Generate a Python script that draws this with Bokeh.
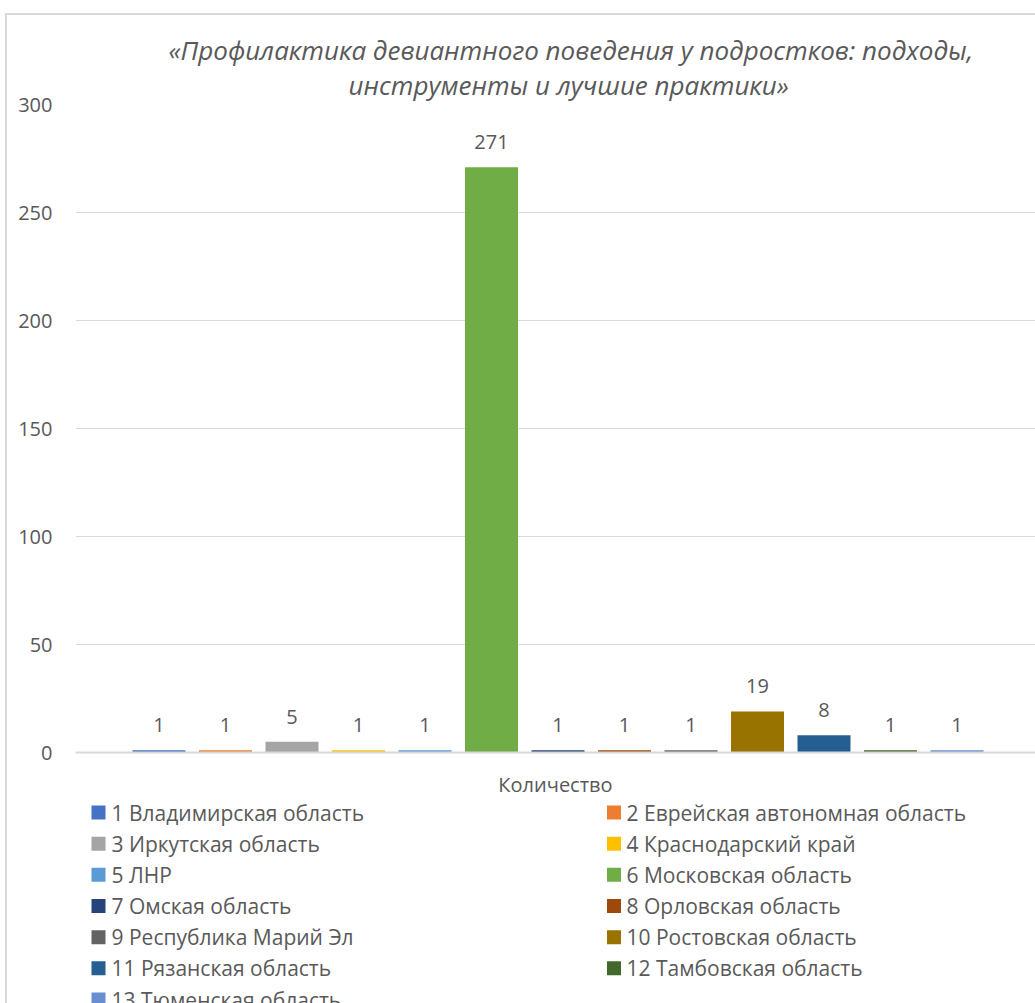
from bokeh.plotting import figure
from bokeh.models import Range1d, FixedTicker, ColumnDataSource, Title
from bokeh.layouts import column
from bokeh.embed import file_html
from bokeh.resources import INLINE
from bokeh.core.properties import value

# ---------------- data ----------------
regions = [
    "1 Владимирская область",
    "2 Еврейская автономная область",
    "3 Иркутская область",
    "4 Краснодарский край",
    "5 ЛНР",
    "6 Московская область",
    "7 Омская область",
    "8 Орловская область",
    "9 Республика Марий Эл",
    "10 Ростовская область",
    "11 Рязанская  область",
    "12 Тамбовская область",
    "13 Тюменская область",
]
counts = [1, 1, 5, 1, 1, 271, 1, 1, 1, 19, 8, 1, 1]
colors = ["#4472C4", "#ED7D31", "#A5A5A5", "#FFC000", "#5B9BD5", "#70AD47",
          "#264478", "#9E480E", "#636363", "#997300", "#255E91", "#43682B", "#698ED0"]
category = "Количество"
title_lines = ["«Профилактика девиантного поведения у подростков: подходы,",
               "инструменты и лучшие практики»"]
y_ticks = [0, 50, 100, 150, 200, 250, 300]

# ---------------- style ----------------
FONT = "Open Sans"
TXT = "#595959"
GRID = "#D9D9D9"

W = 1028
H1 = 785
H2 = 203
LEFT = 68

# frame spans page x 75..1035 (960px) -> x range 0..1
n = len(counts)
pitch = 66.5 / 960.0
bar_w = 53.0 / 960.0
center = (557.5 - 75.0) / 960.0
xs = [center + (i - (n - 1) / 2.0) * pitch for i in range(n)]

src = ColumnDataSource(dict(
    x=xs, top=counts, color=colors, label=[str(v) for v in counts], name=regions))

p = figure(width=W, height=H1, x_range=Range1d(0, 1), y_range=Range1d(0, 300),
           output_backend="svg", toolbar_location=None, title=None,
           min_border_left=LEFT, min_border_right=0, min_border_top=89, min_border_bottom=45)
p.outline_line_color = None
p.background_fill_color = "white"
p.border_fill_color = "white"

p.vbar(x="x", top="top", bottom=0, width=bar_w, fill_color="color", line_color=None, source=src)
p.text(x="x", y="top", text="label", source=src, text_align="center", text_baseline="middle",
       y_offset=-25, text_font=value(FONT), text_font_size="20px", text_color=TXT)

# axes
p.yaxis.ticker = FixedTicker(ticks=y_ticks)
p.yaxis.axis_line_color = None
p.yaxis.major_tick_line_color = None
p.yaxis.minor_tick_line_color = None
p.yaxis.major_tick_out = 0
p.yaxis.major_tick_in = 0
p.yaxis.major_label_standoff = 23
p.yaxis.major_label_text_font = FONT
p.yaxis.major_label_text_font_size = "20px"
p.yaxis.major_label_text_color = TXT

p.xaxis.ticker = FixedTicker(ticks=[0.5])
p.xaxis.major_label_overrides = {0.5: category}
p.xaxis.axis_line_color = GRID
p.xaxis.axis_line_width = 2
p.xaxis.major_tick_line_color = None
p.xaxis.minor_tick_line_color = None
p.xaxis.major_tick_out = 0
p.xaxis.major_tick_in = 0
p.xaxis.major_label_standoff = 18
p.xaxis.major_label_text_font = FONT
p.xaxis.major_label_text_font_size = "20px"
p.xaxis.major_label_text_color = TXT

p.xgrid.grid_line_color = None
p.ygrid.ticker = FixedTicker(ticks=y_ticks)
p.ygrid.grid_line_color = GRID
p.ygrid.grid_line_width = 1

# title: two lines, placed so that they are centred near x=567
t2 = Title(text=title_lines[1], align="left", offset=273, standoff=4,
           text_font=FONT, text_font_style="italic", text_font_size="26px", text_color=TXT)
t1 = Title(text=title_lines[0], align="left", offset=93, standoff=-11,
           text_font=FONT, text_font_style="italic", text_font_size="26px", text_color=TXT)
p.add_layout(t2, "above")
p.add_layout(t1, "above")

# ---------------- legend (two columns, row-major) ----------------
q = figure(width=W, height=H2, x_range=Range1d(75, 1035), y_range=Range1d(1003, 800),
           x_axis_type=None, y_axis_type=None,
           output_backend="svg", toolbar_location=None,
           min_border=0, min_border_left=LEFT, min_border_right=0, min_border_top=0, min_border_bottom=0)
q.grid.visible = False
q.outline_line_color = None
q.background_fill_color = "white"
q.border_fill_color = "white"

col_sq = [98.0, 613.5]
col_tx = [111.0, 626.0]
lsrc = ColumnDataSource(dict(
    sx=[col_sq[i % 2] for i in range(n)],
    tx=[col_tx[i % 2] for i in range(n)],
    y=[812 + 31.17 * (i // 2) for i in range(n)],
    color=colors, name=regions))
q.rect(x="sx", y="y", width=14, height=14, fill_color="color", line_color=None, source=lsrc)
q.text(x="tx", y="y", text="name", source=lsrc, text_align="left", text_baseline="middle",
       text_font=value(FONT), text_font_size="21px", text_color=TXT)

layout = column(p, q, styles={"border-top": "2px solid #D9D9D9", "border-left": "2px solid #D9D9D9",
                              "margin-left": "5px", "margin-top": "13px"})

open("out.html", "w").write(file_html(layout, INLINE))
